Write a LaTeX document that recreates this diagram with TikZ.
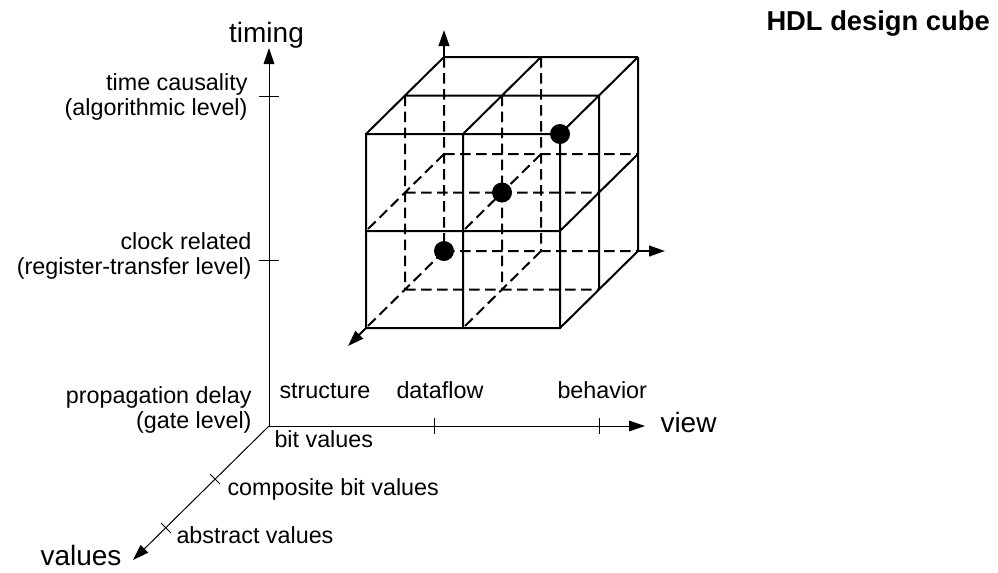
\documentclass[tikz,border=0pt]{standalone}
\usepackage{fontspec}
\setmainfont{Liberation Sans}
\usetikzlibrary{arrows.meta}

\tikzset{every picture/.style={line width=0.75pt}}
\tikzset{
  cubeline/.style={line width=1.5pt},
  hidden/.style={line width=1.5pt, dash pattern=on 8pt off 4pt},
  tip/.style={-{Triangle[length=12pt,width=8pt]}},
  lbl/.style={inner sep=0pt, font=\fontsize{17.5}{18.75}\selectfont},
  axislbl/.style={inner sep=0pt, font=\fontsize{21}{25}\selectfont},
}

\begin{document}
\begin{tikzpicture}[x=0.75pt,y=0.75pt,yscale=-1,xscale=1]
\useasboundingbox (0,0) rectangle (998,572);

%Axes
\coordinate (origin) at (269,426);
\draw [tip] (origin) -- (269,48);
\draw [tip] (origin) -- (645,426);
\draw [tip] (origin) -- (133,560);
%Ticks
\draw (259,96) -- (279,96) (259,260) -- (279,260);
\draw (434,418) -- (434,434) (599,418) -- (599,434);
\draw (210,474) -- (220,484) (161,523) -- (171,533);

%Cube: visible edges
\draw [cubeline] (366,134) rectangle (560,328) (366,231) -- (560,231) (463,134) -- (463,328)
  (444,57) -- (638,57) (405,95.5) -- (599,95.5)
  (638,57) -- (638,251) (599,95.5) -- (599,289.5)
  (366,134) -- (444,57) (463,134) -- (541,57) (560,134) -- (638,57)
  (560,328) -- (638,251) (560,231) -- (638,154) ;
%Cube: hidden edges
\draw [hidden] (444,251) -- (638,251) (444,154) -- (638,154) (405,289.5) -- (599,289.5) (405,192.5) -- (599,192.5)
  (444,57) -- (444,251) (541,57) -- (541,251) (405,95.5) -- (405,289.5) (502,95.5) -- (502,289.5)
  (444,251) -- (366,328) (541,251) -- (463,328) (444,154) -- (366,231) (541,154) -- (463,231) ;
%Cube axes
\draw [cubeline, tip] (444,57) -- (444,30);
\draw [cubeline, tip] (638,251) -- (665,251);
\draw [cubeline, tip] (366,328) -- (348,346);
%Dots
\fill (444,251) circle [radius=7.5pt];
\fill (502,192.5) circle [radius=7.5pt];
\fill (560,134) circle [radius=7.5pt];

% Text Node
\node (timing) [axislbl, anchor=base] at (266.5,42) {timing};
\node (view) [axislbl, anchor=base west] at (660,432) {view};
\node (values) [axislbl, anchor=base west] at (40,565) {values};
\node (title) [inner sep=0pt, anchor=base west, font=\bfseries\fontsize{20.5}{25}\selectfont] at (766,30) {HDL design cube};
% Text Node
\node (algo) [lbl, anchor=east, align=right] at (248,96.5) {time causality\\(algorithmic level)};
\node (rtl) [lbl, anchor=east, align=right] at (252,255.5) {clock related\\(register-transfer level)};
\node (gate) [lbl, anchor=east, align=right] at (252,409.5) {propagation delay\\(gate level)};
% Text Node
\node (structure) [lbl, anchor=base west] at (279,398) {structure};
\node (dataflow) [lbl, anchor=base west] at (396,398) {dataflow};
\node (behavior) [lbl, anchor=base west] at (557,398) {behavior};
\node (bitval) [lbl, anchor=base west] at (274,447) {bit values};
\node (compval) [lbl, anchor=base west] at (227,495) {composite bit values};
\node (absval) [lbl, anchor=base west] at (176,543) {abstract values};

\end{tikzpicture}
\end{document}
